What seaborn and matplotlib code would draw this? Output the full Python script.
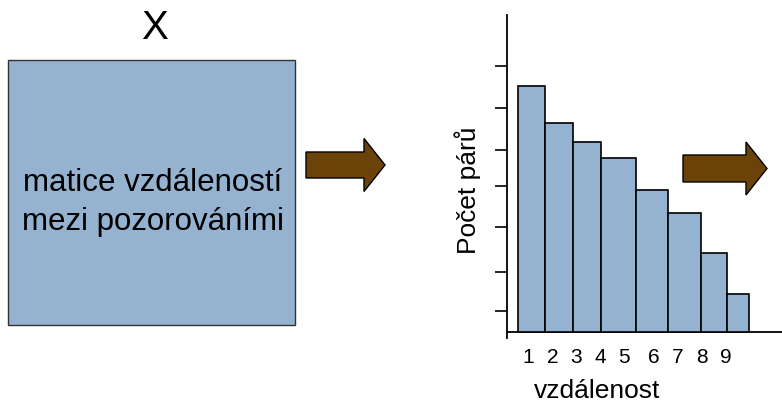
import numpy as np
import pandas as pd
import matplotlib
matplotlib.use('Agg')
from matplotlib import pyplot as plt
from matplotlib.patches import Rectangle, Polygon
import seaborn as sns

##----------------------------------------------------------------------------##
## data
##----------------------------------------------------------------------------##
binEdges = [0.6, 1.69, 2.82, 3.95, 5.36, 6.66, 7.99, 9.04, 9.93]
pairCounts = [246, 209, 190, 174, 142, 119, 79, 38]
tickPositions = [1, 2.01, 2.94, 3.91, 4.88, 6.09, 7.06, 8.03, 9.0]
tickLabels = ['1', '2', '3', '4', '5', '6', '7', '8', '9']
yTicks = [21, 60, 105, 146, 182, 224, 266]
boxTitle = 'X'
boxLines = ['matice vzdáleností', 'mezi pozorováními']
xLabel = 'vzdálenost'
yLabel = 'Počet párů'

barColor = '#95B3D0'
arrowColor = '#6B4309'

sns.set_style('white')
plt.rcParams['font.family'] = ['Liberation Sans', 'DejaVu Sans']
plt.rcParams['text.color'] = 'black'
plt.rcParams['axes.labelcolor'] = 'black'
plt.rcParams['xtick.color'] = 'black'
plt.rcParams['ytick.color'] = 'black'

fig = plt.figure(figsize=(7.82, 4.03), dpi=100)

##----------------------------------------------------------------------------##
## background layer: matrix box and arrows (pixel coordinates)
##----------------------------------------------------------------------------##
bg = fig.add_axes([0, 0, 1, 1])
bg.set_xlim(0, 782)
bg.set_ylim(403, 0)
bg.axis('off')

bg.add_patch(Rectangle((8, 60), 287, 265, facecolor=barColor, edgecolor='#333333', linewidth=1))
bg.text(155, 28, boxTitle, ha='center', va='center', fontsize=29)
bg.text(153, 183, boxLines[0], ha='center', va='center', fontsize=22.5)
bg.text(153, 222, boxLines[1], ha='center', va='center', fontsize=22.5)

def arrow(x0, yc, bodyLen, headLen, bodyHalf, headHalf):
    pts = [(x0, yc - bodyHalf), (x0 + bodyLen, yc - bodyHalf), (x0 + bodyLen, yc - headHalf),
           (x0 + bodyLen + headLen, yc), (x0 + bodyLen, yc + headHalf),
           (x0 + bodyLen, yc + bodyHalf), (x0, yc + bodyHalf)]
    bg.add_patch(Polygon(pts, closed=True, facecolor=arrowColor, edgecolor='black', linewidth=1, zorder=5))

arrow(306, 165, 58, 21, 13, 26.5)
arrow(683, 168.5, 63, 21, 13.5, 26.5)

##----------------------------------------------------------------------------##
## histogram of distances
##----------------------------------------------------------------------------##
ax = fig.add_axes([507 / 782, (403 - 338) / 403, 275 / 782, 323 / 403])
ax.set_facecolor('none')

centers = [(binEdges[i] + binEdges[i + 1]) / 2 for i in range(len(pairCounts))]
df = pd.DataFrame({'vzdalenost': centers, 'pocet': pairCounts})
sns.histplot(data=df, x='vzdalenost', weights='pocet', bins=binEdges, color=barColor,
             edgecolor='black', linewidth=1.2, alpha=1, ax=ax)

ax.set_xlim(0.15, 11.26)
ax.set_ylim(-6, 317)
ax.axhline(0, xmin=0, xmax=1, color='black', linewidth=1.3, zorder=0)

for s in ['top', 'right', 'bottom']:
    ax.spines[s].set_visible(False)
ax.spines['left'].set_linewidth(1.3)
ax.spines['left'].set_color('black')

ax.set_yticks(yTicks)
ax.set_yticklabels([])
ax.tick_params(axis='y', left=True, length=8.5, width=1.2, color='black', direction='out')

ax.set_xticks(tickPositions)
ax.set_xticklabels(tickLabels, fontsize=15)
ax.tick_params(axis='x', bottom=False, length=0, pad=7.5)

ax.set_xlabel(xLabel, fontsize=19)
ax.xaxis.set_label_coords((597 - 507) / 275, -0.127)
ax.set_ylabel(yLabel, fontsize=19)
ax.yaxis.label.set_va('center')
ax.yaxis.set_label_coords(-0.142, 0.458)

fig.savefig('out.png', dpi=100)
